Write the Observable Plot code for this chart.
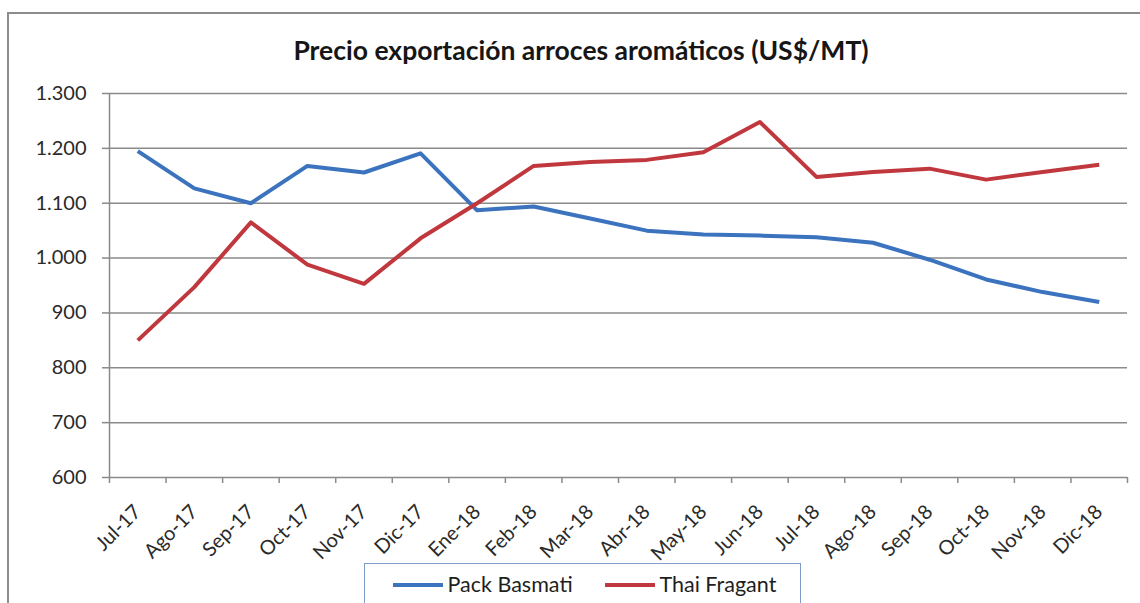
<!DOCTYPE html>
<html>
<head>
<meta charset="utf-8">
<script src="https://cdn.jsdelivr.net/npm/d3@7"></script>
<script src="https://cdn.jsdelivr.net/npm/@observablehq/plot@0.6"></script>
<style>
  html, body { margin: 0; padding: 0; background: #fff; }
  #wrap { position: relative; width: 1140px; height: 603px; overflow: hidden; font-family: Lato, "Open Sans", sans-serif; }
  #frame { position: absolute; left: 7px; top: 12px; width: 1200px; height: 700px; border-left: 2px solid #8c8c8c; border-top: 2px solid #8c8c8c; }
  #title { position: absolute; left: 0; top: 0; width: 1162px; height: 80px; text-align: center; font-weight: bold; font-size: 26.5px; line-height: 26px; padding-top: 37px; box-sizing: border-box; color: #161616; }
  #chart { position: absolute; left: 0; top: 80px; }
  #chart svg { overflow: visible; }
  #legend { position: absolute; left: 364px; top: 563px; width: 437px; height: 60px; border: 1.5px solid #7f9bc9; box-sizing: border-box; }
  .item { position: absolute; top: 8px; font-size: 21.5px; line-height: 24px; color: #1e1e1e; white-space: nowrap; }
  .sw { display: inline-block; width: 50px; height: 4px; vertical-align: middle; margin-right: 5px; position: relative; top: -2px; }
</style>
</head>
<body>
<div id="wrap">
  <div id="frame"></div>
  <div id="title">Precio exportación arroces aromáticos (US$/MT)</div>
  <div id="chart"></div>
  <div id="legend"></div>
</div>
<script>
const months = ["Jul-17","Ago-17","Sep-17","Oct-17","Nov-17","Dic-17","Ene-18","Feb-18","Mar-18","Abr-18","May-18","Jun-18","Jul-18","Ago-18","Sep-18","Oct-18","Nov-18","Dic-18"];
const packBasmati = [1195,1127,1100,1168,1156,1191,1087,1094,1072,1050,1043,1041,1038,1028,997,961,938,920];
const thaiFragant = [850,947,1065,988,953,1036,1100,1168,1175,1179,1193,1248,1148,1157,1163,1143,1157,1170];
const seriesNames = ["Pack Basmati", "Thai Fragant"];
const seriesColors = ["#3b73be", "#c0383e"];
const yTicks = [600,700,800,900,1000,1100,1200,1300];

const rows = [];
months.forEach((m, i) => {
  rows.push({i, month: m, series: seriesNames[0], value: packBasmati[i]});
  rows.push({i, month: m, series: seriesNames[1], value: thaiFragant[i]});
});

const fmt = d => d3.format(",")(d).replace(/,/g, ".");
const gray = "#8a8a8a";

const plot = Plot.plot({
  width: 1140,
  height: 520,
  marginLeft: 109,
  marginRight: 13,
  marginTop: 13,
  marginBottom: 123,
  style: { fontFamily: "Lato, 'Open Sans', sans-serif", background: "transparent", overflow: "visible" },
  x: { type: "linear", domain: [-0.5, months.length - 0.5], axis: null },
  y: { domain: [600, 1300] },
  color: { domain: seriesNames, range: seriesColors },
  marks: [
    Plot.gridY(yTicks, { stroke: gray, strokeOpacity: 1, strokeWidth: 1.5 }),
    Plot.ruleX([-0.5], { stroke: gray, strokeWidth: 1.5 }),
    Plot.axisY({ ticks: yTicks, tickSize: 7, tickPadding: 16, tickFormat: fmt, fontSize: 20, stroke: gray, strokeWidth: 1.5, color: "#2a2a2a", label: null }),
    Plot.axisX({ ticks: d3.range(-0.5, months.length, 1), tickSize: 6, tickFormat: () => "", stroke: gray, strokeWidth: 1.5, label: null }),
    Plot.text(months, { x: (d, i) => i, y: () => 600, text: d => d, rotate: -45, textAnchor: "end", lineAnchor: "middle", fontSize: 20, fill: "#2a2a2a", dx: 0, dy: 31 }),
    Plot.line(rows, { x: "i", y: "value", z: "series", stroke: "series", strokeWidth: 4, strokeLinejoin: "round", strokeLinecap: "butt" })
  ]
});
document.getElementById("chart").appendChild(plot);

const legend = document.getElementById("legend");
const lx = [393 - 364, 605 - 364];
seriesNames.forEach((name, k) => {
  const div = document.createElement("div");
  div.className = "item";
  div.style.left = (lx[k] - 1.5) + "px";
  div.innerHTML = `<span class="sw" style="background:${seriesColors[k]}"></span>${name}`;
  legend.appendChild(div);
});
</script>
</body>
</html>
